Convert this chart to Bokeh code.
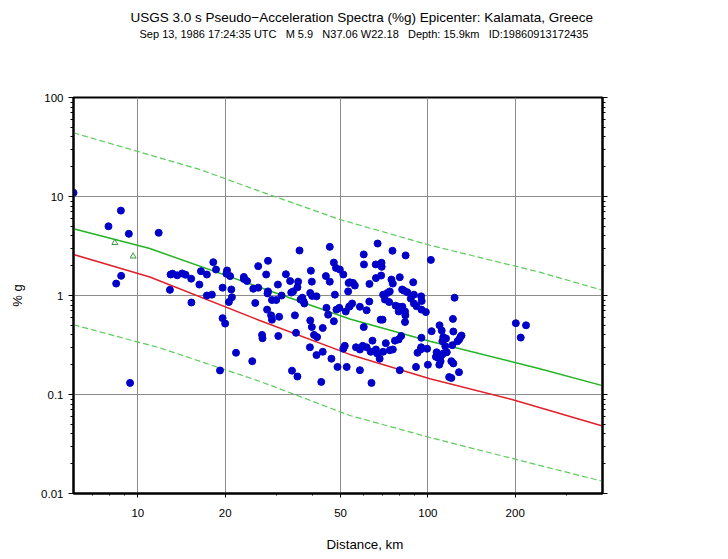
import math
from bokeh.plotting import figure
from bokeh.models import FixedTicker, LogAxis, Title, CustomJSTickFormatter
from bokeh.embed import file_html
from bokeh.resources import INLINE

# ---------------- data ----------------
GAP = " \u00a0\u00a0"
title_text = "USGS 3.0 s Pseudo\u2212Acceleration Spectra (%g) Epicenter: Kalamata, Greece"
subtitle_text = GAP.join(["Sep 13, 1986 17:24:35 UTC", "M 5.9", "N37.06 W22.18",
                          "Depth: 15.9km", "ID:19860913172435"])
x_label = "Distance, km"
y_label = "% g"

x_major = [10, 20, 50, 100, 200]
x_minor = [7, 8, 9, 30, 40, 60, 70, 80, 90, 300]
y_major = [0.01, 0.1, 1, 10, 100]
y_minor = [0.02, 0.03, 0.04, 0.05, 0.06, 0.07, 0.08, 0.09,
           0.2, 0.3, 0.4, 0.5, 0.6, 0.7, 0.8, 0.9,
           2, 3, 4, 5, 6, 7, 8, 9,
           20, 30, 40, 50, 60, 70, 80, 90]

# median prediction (green), red curve, +/- dashed (green)
green_km = [6.0, 11.0, 26.3, 53.8, 101.6, 243, 400]
green_g = [4.72, 2.98, 1.21, 0.58, 0.345, 0.182, 0.123]
red_km = [6.0, 11.0, 26.3, 53.8, 101.6, 195, 400]
red_g = [2.6, 1.54, 0.56, 0.254, 0.144, 0.089, 0.048]
upper_km = [6.0, 16.4, 26.3, 49.7, 101.6, 243, 400]
upper_g = [44, 18.7, 11.3, 5.86, 3.22, 1.72, 1.13]
lower_km = [6.0, 11.9, 26.3, 53.8, 101.6, 243, 400]
lower_g = [0.506, 0.296, 0.136, 0.0614, 0.0368, 0.0192, 0.0133]

# green triangles
tri_km = [8.33, 9.63]
tri_g = [3.41, 2.49]

# station observations
station_km = [
    6.0, 8.74, 7.92, 9.31, 11.8, 8.76, 8.42, 9.4,
    12.97, 13.17, 13.67, 14.22, 14.6, 15.27, 12.9, 15.3, 16.3, 16.5, 17.3, 18.2,
    18.6, 17.3, 18.0, 19.6, 20.3, 20.2, 20.8, 21.0, 21.1, 20.6, 19.6, 20.0,
    23.2, 23.2, 23.8, 25.0, 26.0, 26.0, 25.4, 21.8, 24.8, 19.2,
    45.9, 36.1, 28.1, 27.7, 32.4, 33.5, 35.7, 35.5, 30.4, 28.1, 28.0, 31.3,
    33.8, 34.3, 39.5, 39.8, 39.3, 39.9, 41.3, 36.9, 36.4, 37.3, 37.5, 44.5,
    45.9, 47.4, 48.2, 49.7, 51.1, 47.8, 53.3, 53.1, 29.0, 30.0, 27.9, 28.8,
    29.0, 30.7, 34.8, 35.1, 39.3, 39.8, 40.5, 41.5, 43.4, 44.7, 45.3, 47.4,
    48.4, 49.5, 52.1, 53.5, 26.8, 26.9, 30.5, 39.2, 41.3, 43.4, 46.5, 48.8,
    51.1, 51.7, 52.5, 34.0, 35.5, 42.9,
    67.1, 75.5, 83.8, 60.1, 60.2, 66.1, 69.2, 69.3, 66.2, 69.0, 53.8, 55.2,
    56.0, 62.9, 74.9, 75.7, 80.0, 89.0, 81.5, 82.7, 84.9, 73.9, 72.5, 70.1,
    71.1, 73.5, 77.4, 79.3, 81.7, 83.4, 87.3, 89.5, 89.5, 91.4, 94.8, 95.2,
    95.0, 98.4, 79.3, 53.8, 54.8, 58.3, 62.8, 61.5, 68.7, 69.8, 83.6, 83.4,
    60.1, 64.4, 80.9, 79.3, 77.0, 71.6, 75.7, 70.1, 73.9, 66.2, 66.8, 68.2,
    63.5, 61.5, 59.6, 58.3, 56.5, 58.3, 63.9, 80.0, 91.0, 94.4, 92.1, 95.0,
    99.4, 100.0, 94.8,
    102.4, 123.6, 122.0, 103.0, 109.7, 111.6, 122.4, 113.0, 115.5, 112.2, 128.2, 130.6,
    129.6, 126.5, 121.4, 114.8, 107.2, 111.3, 106.6, 108.5, 113.0, 110.6, 109.5, 116.2,
    120.5, 122.4, 128.0, 118.4, 120.5, 201.0, 218.0, 209.0,
]
station_g = [
    10.9, 7.2, 5.0, 4.2, 4.3, 1.58, 1.32, 0.131,
    1.63, 1.66, 1.60, 1.67, 1.62, 1.48, 1.14, 0.85, 1.29, 1.76, 1.63, 2.17,
    1.83, 1.0, 1.02, 1.2, 1.79, 1.66, 1.57, 1.15, 0.96, 0.86, 0.59, 0.52,
    1.54, 1.47, 1.40, 1.17, 1.2, 1.98, 0.84, 0.264, 0.217, 0.175,
    3.1, 2.85, 2.24, 1.63, 1.64, 1.40, 1.38, 1.21, 1.29, 1.1, 1.05, 1.0,
    1.07, 1.1, 1.78, 1.38, 1.06, 0.99, 0.98, 0.95, 0.91, 0.87, 0.83, 1.57,
    1.38, 2.15, 1.9, 1.83, 1.63, 1.02, 1.34, 1.1, 0.9, 0.9, 0.72, 0.63,
    0.57, 0.61, 0.63, 0.42, 0.56, 0.48, 0.40, 0.38, 0.47, 0.75, 0.64, 0.55,
    0.72, 0.75, 0.69, 0.77, 0.40, 0.37, 0.39, 0.30, 0.25, 0.27, 0.23, 0.19,
    0.29, 0.31, 0.19, 0.174, 0.152, 0.134,
    3.35, 2.83, 2.54, 2.6, 2.06, 2.06, 2.14, 1.95, 1.5, 1.59, 1.36, 1.34,
    1.26, 1.31, 1.45, 1.32, 1.53, 1.36, 1.15, 1.12, 1.08, 1.1, 1.06, 1.02,
    0.91, 0.86, 0.79, 0.77, 0.77, 0.69, 0.93, 1.02, 0.83, 0.78, 0.98, 0.88,
    0.72, 0.68, 0.69, 0.78, 0.83, 0.77, 0.87, 0.71, 0.57, 0.57, 0.63, 0.54,
    0.48, 0.35, 0.39, 0.36, 0.35, 0.33, 0.285, 0.27, 0.28, 0.285, 0.26, 0.23,
    0.27, 0.30, 0.31, 0.285, 0.30, 0.176, 0.131, 0.176, 0.19, 0.285, 0.264, 0.374,
    0.29, 0.20, 0.30,
    2.29, 0.95, 0.58, 0.436, 0.50, 0.443, 0.433, 0.38, 0.368, 0.345, 0.36, 0.394,
    0.383, 0.345, 0.315, 0.308, 0.267, 0.248, 0.24, 0.235, 0.26, 0.217, 0.20, 0.267,
    0.217, 0.206, 0.168, 0.15, 0.147, 0.525, 0.50, 0.376,
]

# ---------------- figure ----------------
FONT = "Liberation Sans"

p = figure(width=726, height=557, x_axis_type="log", y_axis_type="log",
           x_range=(6, 400), y_range=(0.01, 100),
           output_backend="svg", toolbar_location=None,
           min_border_left=73, min_border_right=124,
           min_border_top=97, min_border_bottom=64)
p.background_fill_color = "white"
p.border_fill_color = "white"
p.outline_line_color = "black"
p.outline_line_width = 2

fmt = CustomJSTickFormatter(code="return String(tick);")

p.xaxis.ticker = FixedTicker(ticks=x_major, minor_ticks=x_minor)
p.yaxis.ticker = FixedTicker(ticks=y_major, minor_ticks=y_minor)
p.xaxis.formatter = fmt
p.yaxis.formatter = fmt

for ax in (p.xaxis[0], p.yaxis[0]):
    ax.axis_line_width = 2
    ax.axis_line_color = "black"
    ax.major_tick_in = 0
    ax.minor_tick_in = 0
    ax.major_tick_line_color = "black"
    ax.minor_tick_line_color = "black"
    ax.major_label_text_font = FONT
    ax.major_label_text_font_size = "11.5px"
    ax.major_label_text_color = "black"
p.xaxis.major_tick_out = 4
p.xaxis.minor_tick_out = 2
p.xaxis.major_label_standoff = 11
p.yaxis.major_tick_out = 5
p.yaxis.minor_tick_out = 3
p.yaxis.major_label_standoff = 5

p.yaxis.axis_label = y_label
p.yaxis.axis_label_text_font = FONT
p.yaxis.axis_label_text_font_size = "13px"
p.yaxis.axis_label_text_font_style = "normal"
p.yaxis.axis_label_text_color = "black"
p.yaxis.axis_label_standoff = 13

# right border: tick marks only
right_ax = LogAxis(ticker=FixedTicker(ticks=y_major, minor_ticks=y_minor),
                   formatter=fmt, major_label_text_color=None,
                   major_label_text_font_size="11px", axis_line_width=2,
                   major_tick_in=0, minor_tick_in=0, major_tick_out=5, minor_tick_out=3)
p.add_layout(right_ax, "right")

p.xgrid.ticker = FixedTicker(ticks=x_major)
p.ygrid.ticker = FixedTicker(ticks=y_major)
p.grid.grid_line_color = "#8c8c8c"
p.grid.grid_line_width = 1

# curves
p.line(upper_km, upper_g, line_color="#5ccc5c", line_width=1.2, line_dash="6 3")
p.line(lower_km, lower_g, line_color="#5ccc5c", line_width=1.2, line_dash="6 3")
p.line(green_km, green_g, line_color="#22b422", line_width=1.5)
p.line(red_km, red_g, line_color="#e0202a", line_width=1.5)

# observations
p.scatter(station_km, station_g, size=7, fill_color="#0000c8", line_color="#0000c8")
p.scatter(tri_km, tri_g, marker="triangle", size=6, fill_color=None,
          line_color="#3a9a3a", line_width=1)

# white spacer titles keep the gaps between the frame and the real titles
def spacer(standoff):
    return Title(text=".", standoff=standoff, text_font=FONT, text_font_size="10px",
                 text_color="white")

p.add_layout(spacer(48), "above")
p.add_layout(Title(text=subtitle_text, align="left", offset=66, standoff=0,
                   text_font=FONT, text_font_size="11px", text_font_style="normal",
                   text_color="black"), "above")
p.add_layout(Title(text=title_text, align="left", offset=57, standoff=2,
                   text_font=FONT, text_font_size="13.5px", text_font_style="normal",
                   text_color="black"), "above")

p.add_layout(spacer(5), "below")
p.add_layout(Title(text=x_label, align="left", offset=253, standoff=0,
                   text_font=FONT, text_font_size="13.3px", text_font_style="normal",
                   text_color="black"), "below")

open("out.html", "w").write(file_html(p, INLINE))
